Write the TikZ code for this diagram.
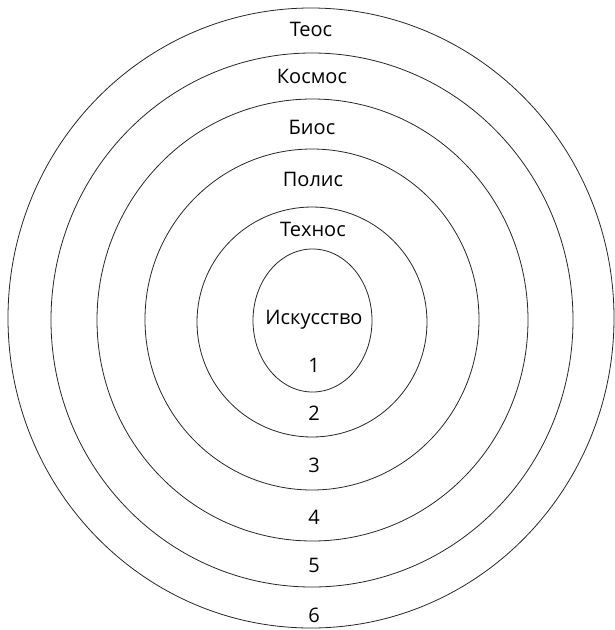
\documentclass[tikz,border=0pt]{standalone}
\usepackage{fontspec}
\setmainfont{Open Sans}
\begin{document}
\begin{tikzpicture}[x=1pt,y=-1pt,
  ring/.style={draw=black!85,line width=0.8pt},
  lbl/.style={font=\fontsize{20}{23}\selectfont,inner sep=0pt,anchor=center}]
\useasboundingbox (0,0) rectangle (614,630);
\draw[ring] (311,318) ellipse [x radius=303pt, y radius=310pt];
\draw[ring] (312,320) ellipse [x radius=261pt, y radius=267pt];
\draw[ring] (312.5,320) ellipse [x radius=215.5pt, y radius=221pt];
\draw[ring] (312,319.5) ellipse [x radius=167pt, y radius=170.5pt];
\draw[ring] (312,322) ellipse [x radius=115pt, y radius=115pt];
\draw[ring] (312.5,320.5) ellipse [x radius=59.5pt, y radius=71.5pt];
\node[lbl] (teos) at (311,29) {Теос};
\node[lbl] (kosmos) at (312,76) {Космос};
\node[lbl] (bios) at (312,127) {Биос};
\node[lbl] (polis) at (313,179) {Полис};
\node[lbl] (tehnos) at (313,229) {Технос};
\node[lbl] (isk) at (314,320) {Искусство};
\node[lbl] (n1) at (314,365) {1};
\node[lbl] (n2) at (314,413) {2};
\node[lbl] (n3) at (314,465) {3};
\node[lbl] (n4) at (314,517) {4};
\node[lbl] (n5) at (314,565) {5};
\node[lbl] (n6) at (314,615) {6};
\end{tikzpicture}
\end{document}
